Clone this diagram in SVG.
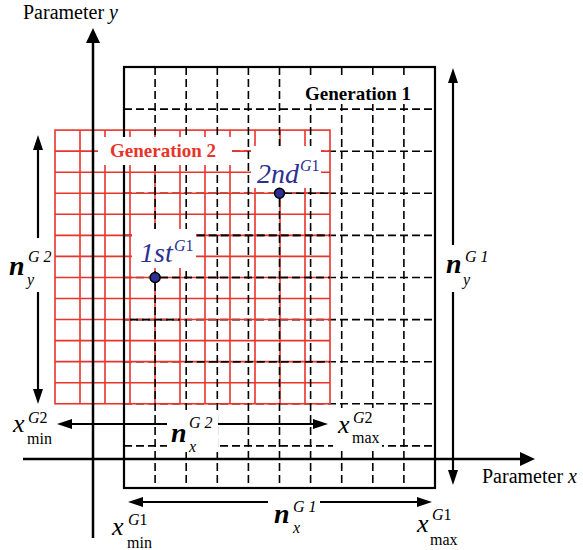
<svg xmlns="http://www.w3.org/2000/svg" width="583" height="550" viewBox="0 0 583 550">
<style>
.g1{stroke:#000;stroke-width:1.6;stroke-dasharray:8 4;fill:none}
.g1b{stroke:#000;stroke-width:2.2;fill:none}
.g2{stroke:#e8352b;stroke-width:1.6;fill:none}
.ax{stroke:#000;stroke-width:2.5;fill:none}
.ar{stroke:#000;stroke-width:2.2;fill:none}
.mask{fill:#fff}
.dot{fill:#2d2f92;stroke:#000;stroke-width:1.5}
text{fill:#000;font-family:"Liberation Serif","Times New Roman",Times,serif}
.it{font-style:italic}
.lbl{font-size:20px}
.gen{font-size:19px;font-weight:bold}
.red{fill:#e8352b}
.blue{fill:#2d2f92}
.big{font-size:28px;font-style:italic}
.n{font-size:28px;font-style:italic;font-weight:bold}
.bx{font-size:26px;font-style:italic}
.sup{font-size:16px;font-style:italic}
.sub{font-size:16px}
</style>
<defs>
<marker id="ah" markerUnits="userSpaceOnUse" markerWidth="15" markerHeight="10" refX="2" refY="5" orient="auto"><path d="M0,0L15,5L0,10z" fill="#000"/></marker>
<marker id="ahb" markerUnits="userSpaceOnUse" markerWidth="15" markerHeight="14" refX="2" refY="7" orient="auto"><path d="M0,0L15,7L0,14z" fill="#000"/></marker>
</defs>
<rect width="583" height="550" fill="#fff"/>

<g id="generation1-grid-under">
<path class="g1" d="M124,109.1H435M124,151.2H435M124,193.3H435M124,235.4H435M124,277.5H435M124,319.6H435M124,361.7H435M124,403.8H435M124,445.9H435"/>
</g>

<g id="generation2-grid">
<rect class="g2" x="55" y="130.1" width="275" height="273.65"/>
<path class="g2" d="M80,130.1V403.75M105,130.1V403.75M130,130.1V403.75M155,130.1V403.75M180,130.1V403.75M205,130.1V403.75M230,130.1V403.75M255,130.1V403.75M280,130.1V403.75M305,130.1V403.75"/>
<path class="g2" d="M55,151.15H330M55,172.2H330M55,193.25H330M55,214.3H330M55,235.35H330M55,256.4H330M55,277.45H330M55,298.5H330M55,319.55H330M55,340.6H330M55,361.65H330M55,382.7H330"/>
</g>

<g id="generation1-grid">
<path class="g1" d="M155.1,67V488M186.2,67V488M217.3,67V488M248.4,67V488M279.5,67V488M310.6,67V488M341.7,67V488M372.8,67V488M403.9,67V488"/>
<path class="g1" d="M197,235.4H330M160,277.5H330M284,193.3H330M185,361.7H330M130,319.6H180"/>
<rect class="g1b" x="124" y="67" width="311" height="421"/>
</g>

<g id="label-masks">
<rect class="mask" x="288" y="75" width="145" height="29"/>
<rect class="mask" x="98" y="137" width="134" height="28"/>
<rect class="mask" x="251" y="146" width="70" height="42"/>
<rect class="mask" x="132" y="229" width="64" height="39"/>
<rect class="mask" x="167" y="410" width="51" height="42"/>
<rect class="mask" x="333" y="408" width="49" height="42"/>
</g>

<g id="connectors">
<line class="ax" x1="93" y1="538" x2="93" y2="41" marker-end="url(#ahb)"/>
<line class="ax" x1="23" y1="459" x2="522" y2="459" marker-end="url(#ahb)"/>
<line class="ar" x1="38" y1="238" x2="38" y2="148" marker-end="url(#ah)"/>
<line class="ar" x1="38" y1="292" x2="38" y2="391" marker-end="url(#ah)"/>
<line class="ar" x1="453" y1="245" x2="453" y2="81" marker-end="url(#ah)"/>
<line class="ar" x1="453" y1="292" x2="453" y2="472" marker-end="url(#ah)"/>
<line class="ar" x1="167" y1="424" x2="70" y2="424" marker-end="url(#ah)"/>
<line class="ar" x1="218" y1="424" x2="315" y2="424" marker-end="url(#ah)"/>
<line class="ar" x1="268" y1="502" x2="141" y2="502" marker-end="url(#ah)"/>
<line class="ar" x1="320" y1="502" x2="419" y2="502" marker-end="url(#ah)"/>
</g>

<g id="axis-labels">
<text class="lbl" x="23" y="19">Parameter <tspan class="it">y</tspan></text>
<text class="lbl" x="482" y="483">Parameter <tspan class="it">x</tspan></text>
</g>

<g id="generation1-label"><text class="gen" x="305" y="100">Generation 1</text></g>
<g id="generation2-label"><text class="gen red" x="110" y="157">Generation 2</text></g>

<g id="point-1st">
<circle class="dot" cx="155.1" cy="277.5" r="5"/>
<text class="big blue" x="140" y="262">1st</text>
<text class="sup blue" x="174" y="251">G<tspan font-style="normal">1</tspan></text>
</g>
<g id="point-2nd">
<circle class="dot" cx="279.5" cy="193.3" r="5"/>
<text class="big blue" x="257" y="183">2nd</text>
<text class="sup blue" x="300" y="171">G<tspan font-style="normal">1</tspan></text>
</g>

<g id="label-ny-g2">
<text class="n" x="9" y="275">n</text>
<text class="sup" x="28" y="262">G 2</text>
<text class="sup" x="27" y="285">y</text>
</g>
<g id="label-ny-g1">
<text class="n" x="446" y="273">n</text>
<text class="sup" x="465" y="262">G 1</text>
<text class="sup" x="463" y="285">y</text>
</g>
<g id="label-nx-g2">
<text class="n" x="171" y="442">n</text>
<text class="sup" x="189" y="428">G 2</text>
<text class="sup" x="189" y="452">x</text>
</g>
<g id="label-nx-g1">
<text class="n" x="274" y="523">n</text>
<text class="sup" x="293" y="512">G 1</text>
<text class="sup" x="293" y="533">x</text>
</g>

<g id="label-xmin-g2">
<text class="bx" x="13" y="432">x</text>
<text class="sup" x="28" y="423">G<tspan font-style="normal">2</tspan></text>
<text class="sub" x="27" y="444">min</text>
</g>
<g id="label-xmax-g2">
<text class="bx" x="338" y="433">x</text>
<text class="sup" x="353" y="423">G<tspan font-style="normal">2</tspan></text>
<text class="sub" x="352" y="443">max</text>
</g>
<g id="label-xmin-g1">
<text class="bx" x="112" y="535">x</text>
<text class="sup" x="128" y="525">G<tspan font-style="normal">1</tspan></text>
<text class="sub" x="127" y="548">min</text>
</g>
<g id="label-xmax-g1">
<text class="bx" x="417" y="532">x</text>
<text class="sup" x="432" y="520">G<tspan font-style="normal">1</tspan></text>
<text class="sub" x="430" y="545">max</text>
</g>
</svg>
